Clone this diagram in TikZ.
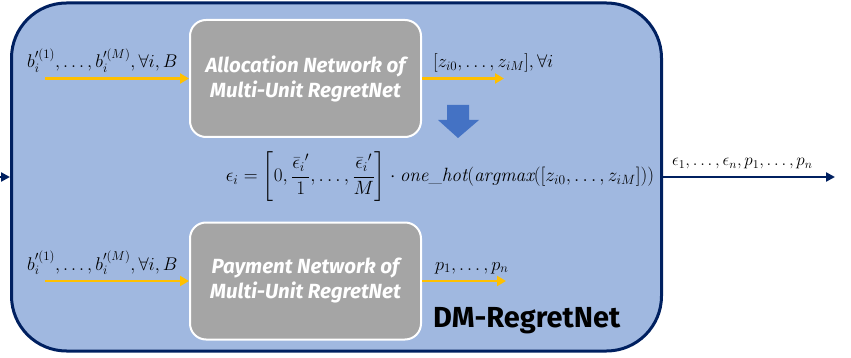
\RequirePackage{fix-cm}
\documentclass[tikz,border=0pt]{standalone}
\usepackage{amsmath}
\usepackage{fontspec}
\setsansfont{Fira Sans}
\usetikzlibrary{arrows.meta}
\definecolor{fillblue}{HTML}{A0B8E0}
\definecolor{navy}{HTML}{002060}
\definecolor{boxgrey}{HTML}{A5A5A5}
\definecolor{arrorange}{HTML}{FFC000}
\definecolor{arrblue}{HTML}{4472C4}
\tikzset{
  outerbox/.style={draw=navy, line width=3pt, fill=fillblue, rounded corners=55pt, minimum width=650pt, minimum height=348pt, inner sep=0pt},
  netbox/.style={draw=white, line width=2pt, fill=boxgrey, rounded corners=16pt, minimum width=231pt, minimum height=117pt, align=center, text=white, font=\fontsize{20.5}{25}\selectfont\sffamily\bfseries\itshape},
  orangearrow/.style={draw=arrorange, line width=2.8pt, -{Triangle[length=9pt,width=10pt]}},
  navyarrow/.style={draw=navy, line width=2.5pt, -{Triangle[length=9pt,width=9pt]}},
  mlabel/.style={inner sep=0pt, font=\fontsize{18.4}{22}\selectfont},
}
\begin{document}
\begin{tikzpicture}[x=1pt,y=-1pt]
\useasboundingbox (0,0) rectangle (851,358);
\node[outerbox] (dm) at (336.5,177) {};
\node[netbox] (alloc) at (305.5,78.5) {Allocation Network of\\Multi-Unit RegretNet};
\node[netbox] (pay) at (305.5,281) {Payment Network of\\Multi-Unit RegretNet};
% inputs
\coordinate (ain) at (45,78.5);
\coordinate (aout) at (504,78.5);
\coordinate (pin) at (45,281);
\coordinate (pout) at (506,281);
\draw[orangearrow] (ain) -- (alloc.west);
\draw[orangearrow] (alloc.east) -- (aout);
\draw[orangearrow] (pin) -- (pay.west);
\draw[orangearrow] (pay.east) -- (pout);
\node[mlabel, anchor=base west] (alab) at (27,68) {$b_i'^{(1)},\ldots,b_i'^{(M)},\forall i,B$};
\node[mlabel, anchor=base west] (plab) at (27,270) {$b_i'^{(1)},\ldots,b_i'^{(M)},\forall i,B$};
\node[mlabel, anchor=base west] (zlab) at (433,68) {$[z_{i0},\ldots,z_{iM}],\forall i$};
\node[mlabel, anchor=base west] (pnlab) at (435,270) {$p_1,\ldots,p_n$};
% blue down arrow
\fill[arrblue] (447,105) -- (469,105) -- (469,120) -- (479,120) -- (458,138) -- (438,120) -- (447,120) -- cycle;
% equation
\node[mlabel, font=\fontsize{19.2}{23}\selectfont] (eq) at (440,177) {$\epsilon_i=\left[0,\dfrac{{\bar\epsilon_i}{}'}{1},\ldots,\dfrac{{\bar\epsilon_i}{}'}{M}\right]\cdot\mathit{one\_hot}(\mathit{argmax}([z_{i0},\ldots,z_{iM}]))$};
% outer in/out
\coordinate (lin) at (0,177);
\coordinate (rout) at (835,177);
\draw[navyarrow] (lin) -- (dm.west);
\draw[navyarrow] (dm.east) -- (rout);
\node[mlabel, font=\fontsize{17}{20}\selectfont, anchor=base west] (olab) at (672,166) {$\epsilon_1,\ldots,\epsilon_n,p_1,\ldots,p_n$};
\node[inner sep=0pt, anchor=west, font=\fontsize{29}{34}\selectfont\sffamily\bfseries] (title) at (433,321) {DM-RegretNet};
\end{tikzpicture}
\end{document}
